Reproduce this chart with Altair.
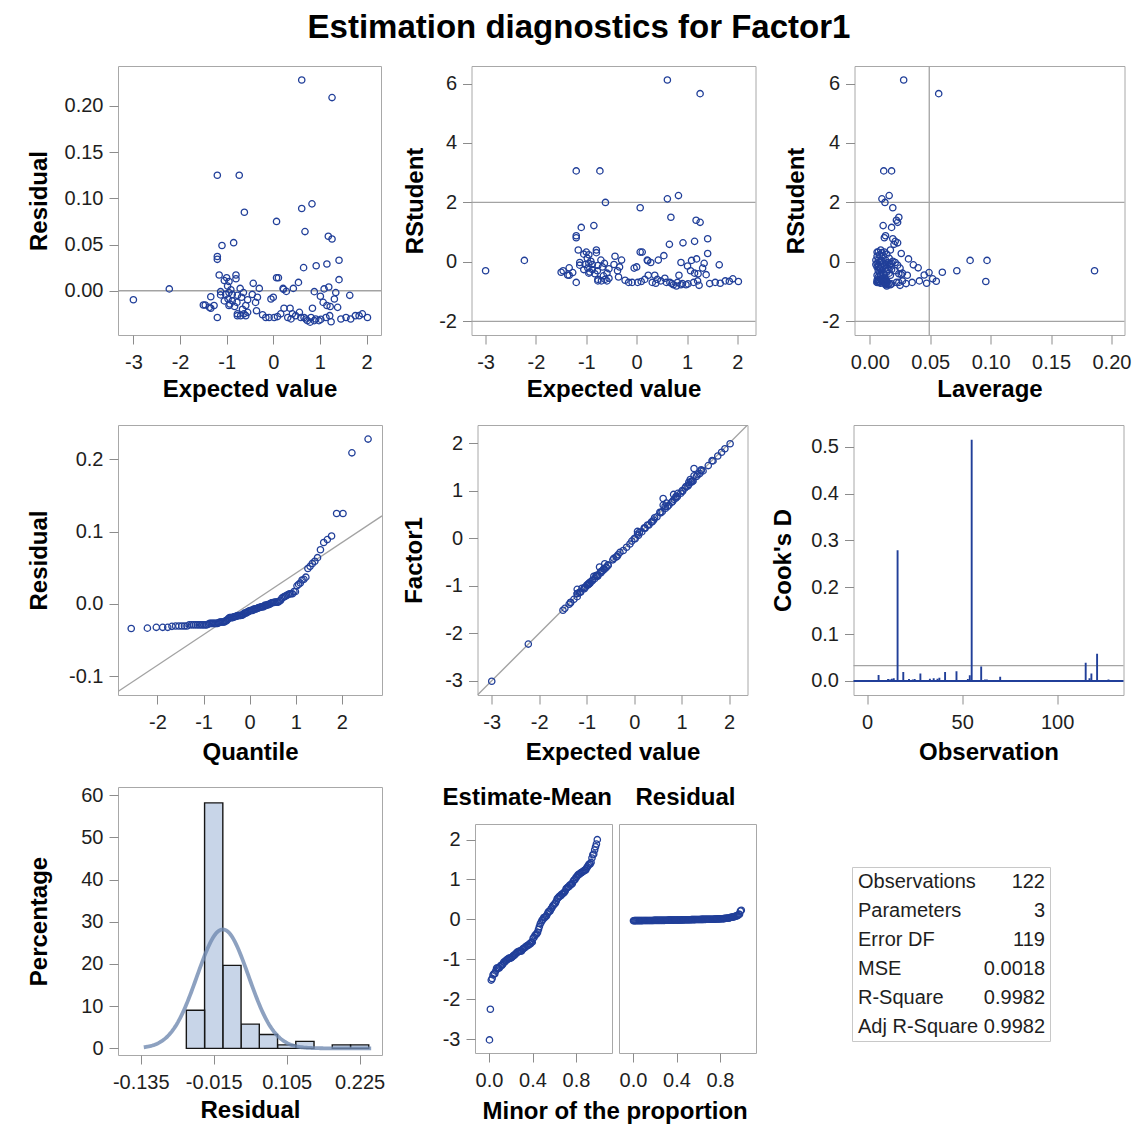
import altair as alt
import pandas as pd

FONT = "Liberation Sans"
BLUE = "#213f99"
REF_GRAY = "#a3a3a3"
FRAME_GRAY = "#a8a8a8"
LABEL_FIX = "replace(datum.label, '\u2212', '-')"

# ---- per-observation fit results (predicted value, residual, studentized residual, leverage)
expected = [
    0.61, 1.26, -1.20, -0.73, 0.83, 0.61, -0.62, 0.07, 0.68, 1.18,
    1.26, -0.85, -1.10, -1.20, -1.20, 1.41, 1.15, 0.92, 0.65, -1.16,
    -0.80, -1.00, 0.07, 0.11, -0.80, 1.41, -1.05, -0.95, 0.54, -0.43,
    -0.98, 1.19, -0.30, 0.43, 0.21, -0.71, -2.23, 1.09, 0.22, -0.91,
    0.28, 0.88, -1.13, 1.34, -0.64, -0.95, -0.88, -1.02, -0.45, -1.13,
    -0.77, 1.01, -1.34, -0.68, -0.34, 0.00, 1.64, -0.97, 1.31, -0.05,
    -0.55, -3.00, -0.88, -1.05, -0.78, -0.38, 1.07, -0.93, -1.50, -1.46,
    -0.95, -1.27, -0.59, 1.15, -0.83, 1.22, -1.37, 1.38, 0.23, 0.36,
    0.84, -1.34, -0.66, -0.36, -0.55, 0.56, -0.77, -0.63, 0.16, 0.41,
    1.91, -0.23, -0.70, 1.21, 1.76, -0.59, -0.77, 0.48, 1.84, 0.09,
    -1.20, -0.09, 0.02, 0.31, 0.59, 0.81, 1.56, 2.02, -0.16, 1.13,
    0.66, 0.70, 0.88, 0.98, 1.24, 1.45, 0.73, 0.79, 0.91, 1.66,
    0.38, 1.02,
]
residual = [
    0.228, 0.209, 0.125, 0.125, 0.094, 0.089, 0.085, 0.075, 0.064, 0.059,
    0.056, 0.052, 0.049, 0.037, 0.034, 0.033, 0.029, 0.027, 0.025, 0.017,
    0.017, 0.014, 0.014, 0.014, 0.013, 0.012, 0.011, 0.010, 0.009, 0.008,
    0.005, 0.004, 0.0025, 0.0025, 0.0025, 0.0025, 0.002, 0.002, 0.0015, 0.001,
    -0.0007, -0.001, -0.001, -0.002, -0.002, -0.002, -0.004, -0.004, -0.004, -0.0045,
    -0.005, -0.006, -0.0065, -0.007, -0.007, -0.007, -0.005, -0.009, -0.009, -0.009,
    -0.0097, -0.0097, -0.011, -0.011, -0.0126, -0.0126, -0.0126, -0.0144, -0.0155, -0.0155,
    -0.016, -0.016, -0.016, -0.016, -0.017, -0.017, -0.018, -0.018, -0.019, -0.019,
    -0.019, -0.019, -0.020, -0.0216, -0.0234, -0.0234, -0.025, -0.025, -0.025, -0.025,
    -0.025, -0.026, -0.027, -0.027, -0.027, -0.027, -0.027, -0.027, -0.027, -0.028,
    -0.029, -0.029, -0.029, -0.029, -0.029, -0.029, -0.029, -0.029, -0.029, -0.029,
    -0.029, -0.0306, -0.0324, -0.0324, -0.0335, -0.0306, -0.0324, -0.034, -0.0306, -0.0306,
    -0.0305, -0.031,
]
rstudent = [
    6.12, 5.66, 3.06, 3.06, 2.23, 2.12, 2.00, 1.82, 1.50, 1.40,
    1.33, 1.22, 1.16, 0.88, 0.81, 0.78, 0.69, 0.64, 0.59, 0.40,
    0.40, 0.33, 0.33, 0.33, 0.31, 0.28, 0.26, 0.24, 0.21, 0.19,
    0.12, 0.10, 0.06, 0.06, 0.06, 0.06, 0.05, 0.05, 0.04, 0.02,
    -0.02, -0.02, -0.02, -0.05, -0.05, -0.05, -0.09, -0.09, -0.09, -0.11,
    -0.12, -0.14, -0.20, -0.17, -0.17, -0.17, -0.10, -0.21, -0.21, -0.21,
    -0.23, -0.30, -0.26, -0.26, -0.30, -0.30, -0.30, -0.34, -0.35, -0.30,
    -0.38, -0.36, -0.38, -0.38, -0.40, -0.40, -0.44, -0.43, -0.45, -0.45,
    -0.45, -0.45, -0.47, -0.51, -0.55, -0.55, -0.59, -0.59, -0.59, -0.59,
    -0.57, -0.62, -0.64, -0.64, -0.64, -0.64, -0.64, -0.64, -0.65, -0.66,
    -0.69, -0.69, -0.69, -0.69, -0.69, -0.69, -0.69, -0.66, -0.69, -0.69,
    -0.69, -0.73, -0.77, -0.77, -0.79, -0.73, -0.77, -0.81, -0.73, -0.72,
    -0.72, -0.74,
]
leverage = [
    0.028, 0.057, 0.018, 0.0115, 0.016, 0.010, 0.0125, 0.019, 0.024, 0.022,
    0.023, 0.011, 0.018, 0.013, 0.012, 0.019, 0.021, 0.023, 0.020, 0.017,
    0.009, 0.012, 0.006, 0.007, 0.010, 0.026, 0.014, 0.008, 0.011, 0.006,
    0.016, 0.032, 0.005, 0.009, 0.007, 0.013, 0.097, 0.083, 0.010, 0.019,
    0.008, 0.015, 0.021, 0.018, 0.006, 0.011, 0.014, 0.017, 0.005, 0.023,
    0.012, 0.016, 0.040, 0.007, 0.010, 0.006, 0.036, 0.013, 0.025, 0.008,
    0.009, 0.186, 0.018, 0.015, 0.010, 0.007, 0.021, 0.014, 0.060, 0.072,
    0.016, 0.049, 0.008, 0.027, 0.011, 0.024, 0.045, 0.026, 0.006, 0.009,
    0.017, 0.031, 0.009, 0.007, 0.010, 0.012, 0.013, 0.011, 0.007, 0.009,
    0.052, 0.006, 0.012, 0.027, 0.041, 0.010, 0.014, 0.010, 0.055, 0.007,
    0.024, 0.006, 0.007, 0.008, 0.011, 0.014, 0.035, 0.096, 0.006, 0.022,
    0.012, 0.013, 0.015, 0.017, 0.025, 0.030, 0.013, 0.014, 0.016, 0.047,
    0.009, 0.018,
]

# ---- Cook's D by observation number
cook_obs = [i for i in range(1, 128) if i not in (74, 79, 88, 95, 106)]
cooks_d = [
    0.001, 0.0005, 0.0012, 0.0008, 0.0006, 0.013, 0.0009, 0.0004, 0.0011, 0.0015,
    0.004, 0.003, 0.005, 0.006, 0.001, 0.279, 0.0007, 0.0012, 0.019, 0.0009,
    0.0014, 0.004, 0.0011, 0.003, 0.004, 0.0008, 0.0013, 0.016, 0.0009, 0.0012,
    0.0006, 0.0015, 0.005, 0.0018, 0.006, 0.0014, 0.005, 0.007, 0.0010, 0.0016,
    0.019, 0.0009, 0.0011, 0.0007, 0.0013, 0.0009, 0.021, 0.0012, 0.0008, 0.0014,
    0.0010, 0.0016, 0.004, 0.012, 0.515, 0.0011, 0.0009, 0.0013, 0.0017, 0.031,
    0.0012, 0.003, 0.003, 0.0008, 0.0011, 0.0007, 0.0010, 0.0009, 0.0013, 0.009,
    0.0008, 0.0006, 0.0010, 0.0007, 0.0009, 0.0006, 0.0008, 0.0007,
    0.0005, 0.0009, 0.0006, 0.0008, 0.0007, 0.002, 0.0006, 0.0008, 0.0005,
    0.0007, 0.002, 0.0006, 0.0009, 0.0007, 0.002, 0.0006, 0.0008, 0.0005,
    0.0009, 0.0007, 0.002, 0.0006, 0.0008, 0.0007, 0.0005, 0.0009, 0.0006,
    0.0008, 0.0010, 0.0007, 0.0009, 0.039, 0.0011, 0.006, 0.016, 0.0012, 0.0009,
    0.058, 0.0010, 0.0007, 0.0009, 0.0006, 0.0008, 0.003,
]

# ---- fit statistics
stat_names = ["Observations", "Parameters", "Error DF", "MSE", "R-Square", "Adj R-Square"]
stat_values = ["122", "3", "119", "0.0018", "0.9982", "0.9982"]

# ---- spread-plot column headers
spread_headers = ["Estimate-Mean", "Residual"]

n_obs = len(expected)
n_params = int(stat_values[1])
mse = float(stat_values[3])
root_mse = mse ** 0.5

pts = pd.DataFrame({"expected": expected, "residual": residual,
                    "rstudent": rstudent, "leverage": leverage})
cook = pd.DataFrame({"obs": cook_obs, "cooksd": cooks_d})
one = pd.DataFrame({"k": [0]})

TITLE_SIZE = 24
LABEL_SIZE = 20
CIRCLE = dict(shape="circle", filled=False, size=40, strokeWidth=1.3,
              color=BLUE, opacity=1, clip=True)


def sc(lo, hi):
    return alt.Scale(domain=[lo, hi], nice=False, zero=False)


def xaxis(title, values, fmt, title_y):
    kw = dict(values=values, format=fmt, tickSize=9, labelPadding=8,
              labelExpr=LABEL_FIX)
    if title is None:
        kw["title"] = None
    else:
        kw["title"] = title
        kw["titleY"] = title_y
        kw["titleBaseline"] = "middle"
    return alt.Axis(**kw)


def yaxis(title, values, fmt, title_x=None):
    kw = dict(values=values, format=fmt, tickSize=9, labelPadding=6,
              labelExpr=LABEL_FIX)
    if title is None:
        kw["title"] = None
    else:
        kw["title"] = title
        kw["titleX"] = title_x
        kw["titleBaseline"] = "middle"
    return alt.Axis(**kw)


def hrule(value, color=REF_GRAY, width=1.3):
    return alt.Chart(one).mark_rule(color=color, strokeWidth=width).encode(y=alt.datum(value))


def vrule(value, color=REF_GRAY, width=1.3):
    return alt.Chart(one).mark_rule(color=color, strokeWidth=width).encode(x=alt.datum(value))


# ---- row 1 -----------------------------------------------------------------
ev_ticks = [-3, -2, -1, 0, 1, 2]

p1 = alt.layer(
    hrule(0),
    alt.Chart(pts).mark_point(**CIRCLE).encode(
        x=alt.X("expected:Q", scale=sc(-3.33, 2.31),
                axis=xaxis("Expected value", ev_ticks, "d", 54)),
        y=alt.Y("residual:Q", scale=sc(-0.0479, 0.2432),
                axis=yaxis("Residual", [0, 0.05, 0.10, 0.15, 0.20], ".2f", -79)),
    ),
).properties(width=263, height=269)

rs_scale = sc(-2.46, 6.59)
p2 = alt.layer(
    hrule(2), hrule(-2),
    alt.Chart(pts).mark_point(**CIRCLE).encode(
        x=alt.X("expected:Q", scale=sc(-3.28, 2.36),
                axis=xaxis("Expected value", ev_ticks, "d", 54)),
        y=alt.Y("rstudent:Q", scale=rs_scale,
                axis=yaxis("RStudent", [-2, 0, 2, 4, 6], "d", -56)),
    ),
).properties(width=284, height=269)

p3 = alt.layer(
    hrule(2), hrule(-2), vrule(2 * n_params / n_obs),
    alt.Chart(pts).mark_point(**CIRCLE).encode(
        x=alt.X("leverage:Q", scale=sc(-0.0127, 0.2108),
                axis=xaxis("Laverage", [0, 0.05, 0.10, 0.15, 0.20], ".2f", 54)),
        y=alt.Y("rstudent:Q", scale=rs_scale,
                axis=yaxis("RStudent", [-2, 0, 2, 4, 6], "d", -58)),
    ),
).properties(width=270, height=269)

# ---- row 2 -----------------------------------------------------------------
qq_x_dom = [-2.855, 2.87]
qq_x = alt.X("q:Q", scale=sc(*qq_x_dom), axis=xaxis("Quantile", [-2, -1, 0, 1, 2], "d", 57))
qq_y_scale = sc(-0.126, 0.2475)
qq_y_axis = yaxis("Residual", [-0.1, 0.0, 0.1, 0.2], ".1f", -79)

qq_line = alt.Chart(pd.DataFrame({"q": qq_x_dom})).transform_calculate(
    res=f"{root_mse} * datum.q"
).mark_line(color=REF_GRAY, strokeWidth=1.3, clip=True).encode(
    x=qq_x, y=alt.Y("res:Q", scale=qq_y_scale, axis=qq_y_axis)
)
qq_pts = alt.Chart(pts).transform_window(
    rank="row_number()", sort=[alt.SortField("residual")]
).transform_joinaggregate(n="count()").transform_calculate(
    q="quantileNormal((datum.rank - 0.375) / (datum.n + 0.25))", res="datum.residual"
).mark_point(**CIRCLE).encode(
    x=qq_x, y=alt.Y("res:Q", scale=qq_y_scale, axis=qq_y_axis)
)
p4 = alt.layer(qq_line, qq_pts).properties(width=264, height=270)

ob_dom = [-3.3, 2.386]
ob_x_axis = xaxis("Expected value", ev_ticks, "d", 57)
ob_y_axis = yaxis("Factor1", ev_ticks, "d", -63)
diag = alt.Chart(pd.DataFrame({"d": ob_dom})).mark_line(
    color=REF_GRAY, strokeWidth=1.3, clip=True
).encode(
    x=alt.X("d:Q", scale=sc(*ob_dom), axis=ob_x_axis),
    y=alt.Y("d:Q", scale=sc(*ob_dom), axis=ob_y_axis),
)
ob_pts = alt.Chart(pts).transform_calculate(
    d="datum.expected", f="datum.expected + datum.residual"
).mark_point(**CIRCLE).encode(
    x=alt.X("d:Q", scale=sc(*ob_dom), axis=ob_x_axis),
    y=alt.Y("f:Q", scale=sc(*ob_dom), axis=ob_y_axis),
)
p5 = alt.layer(diag, ob_pts).properties(width=270, height=270)

p6 = alt.layer(
    hrule(4 / n_obs),
    hrule(0, color=BLUE, width=2.2),
    alt.Chart(cook).mark_rule(color=BLUE, strokeWidth=1.9, clip=True).encode(
        x=alt.X("obs:Q", scale=sc(-7.2, 134.9),
                axis=xaxis("Observation", [0, 50, 100], "d", 57)),
        y=alt.Y("cooksd:Q", scale=sc(-0.0299, 0.5463),
                axis=yaxis("Cook's D", [0, 0.1, 0.2, 0.3, 0.4, 0.5], ".1f", -70)),
        y2=alt.datum(0),
    ),
).properties(width=270, height=270)

# ---- row 3 -----------------------------------------------------------------
bin_step = 0.03
hx_scale = sc(-0.1724, 0.2618)
hx_axis = xaxis("Residual", [-0.135, -0.015, 0.105, 0.225], ".3f", 55)
hy_scale = sc(-1.58, 61.97)
hy_axis = yaxis("Percentage", [0, 10, 20, 30, 40, 50, 60], "d", -79)

bars = alt.Chart(pts).transform_bin(
    as_="b0", field="residual", bin=alt.Bin(extent=[-0.06, 0.24], step=bin_step)
).transform_aggregate(
    cnt="count()", groupby=["b0", "b0_end"]
).transform_joinaggregate(total="sum(cnt)").transform_calculate(
    pct="100 * datum.cnt / datum.total"
).mark_bar(fill="#c8d5e8", stroke="#161616", strokeWidth=1.4, clip=True).encode(
    x=alt.X("b0:Q", scale=hx_scale, axis=hx_axis),
    x2="b0_end:Q",
    y=alt.Y("pct:Q", scale=hy_scale, axis=hy_axis),
    y2=alt.datum(0),
)
curve = alt.Chart(alt.sequence(-0.13, 0.246, 0.002, as_="b0")).transform_calculate(
    pct=f"100 * {bin_step} * densityNormal(datum.b0, 0, {root_mse})"
).mark_line(color="#7089b0", strokeWidth=3.8, opacity=0.8, clip=True).encode(
    x=alt.X("b0:Q", scale=hx_scale, axis=hx_axis),
    y=alt.Y("pct:Q", scale=hy_scale, axis=hy_axis),
)
p7 = alt.layer(bars, curve).properties(width=264, height=268)

sp_x_scale = sc(-0.129, 1.131)
sp_y_scale = sc(-3.35, 2.39)
sp_ticks = [0.0, 0.4, 0.8]
SP_W = 137
SP_GAP = 5

fit_spread = alt.Chart(pts).transform_joinaggregate(
    mean_fit="mean(expected)"
).transform_calculate(
    dev="datum.expected - datum.mean_fit"
).transform_window(
    rank="row_number()", sort=[alt.SortField("dev")]
).transform_joinaggregate(n="count()").transform_calculate(
    prop="(datum.rank - 0.5) / datum.n"
).mark_point(**CIRCLE).encode(
    x=alt.X("prop:Q", scale=sp_x_scale, axis=xaxis(None, sp_ticks, ".1f", 0)),
    y=alt.Y("dev:Q", scale=sp_y_scale, axis=yaxis(None, [-3, -2, -1, 0, 1, 2], "d")),
).properties(width=SP_W, height=229)

res_spread = alt.Chart(pts).transform_window(
    rank="row_number()", sort=[alt.SortField("residual")]
).transform_joinaggregate(n="count()").transform_calculate(
    prop="(datum.rank - 0.5) / datum.n"
).mark_point(**CIRCLE).encode(
    x=alt.X("prop:Q", scale=sp_x_scale, axis=xaxis(None, sp_ticks, ".1f", 0)),
    y=alt.Y("residual:Q", scale=sp_y_scale, axis=None),
).properties(width=SP_W, height=229)

# column headers above the two spread panels
hdr_df = pd.DataFrame({"h": spread_headers})
hdr_style = dict(font=FONT, fontSize=TITLE_SIZE, fontWeight="bold", color="#000000",
                 baseline="middle")
hdr = alt.layer(
    alt.Chart(hdr_df).transform_filter(f"datum.h == '{spread_headers[0]}'")
    .mark_text(align="right", **hdr_style)
    .encode(text="h:N", x=alt.value(SP_W), y=alt.value(11)),
    alt.Chart(hdr_df).transform_filter(f"datum.h == '{spread_headers[1]}'")
    .mark_text(align="center", **hdr_style)
    .encode(text="h:N", x=alt.value(SP_W + SP_GAP + SP_W / 2), y=alt.value(11)),
).properties(width=2 * SP_W + SP_GAP, height=36,
             view=alt.ViewBackground(strokeOpacity=0))

spread_pair = alt.hconcat(fit_spread, res_spread, spacing=SP_GAP).properties(
    title=alt.TitleParams("Minor of the proportion", font=FONT, fontSize=TITLE_SIZE,
                          fontWeight="bold", color="#000000", anchor="middle",
                          orient="bottom", offset=9, dx=16)
)
p8 = alt.vconcat(hdr, spread_pair, spacing=0)

stats = pd.DataFrame({"name": stat_names, "value": stat_values,
                      "row": list(range(len(stat_names)))})
tbl_base = alt.Chart(stats).encode(y=alt.Y("row:O", axis=None))
table = alt.layer(
    tbl_base.mark_text(align="left", baseline="middle", font=FONT, fontSize=20,
                       color="#1e1e1e").encode(x=alt.value(6), text="name:N"),
    tbl_base.mark_text(align="right", baseline="middle", font=FONT, fontSize=20,
                       color="#1e1e1e").encode(x=alt.value(193), text="value:N"),
).properties(width=198, height=174, view=alt.ViewBackground(stroke="#c8c8c8"))

spacer = alt.Chart(one).mark_point(opacity=0).encode(
    x=alt.value(0), y=alt.value(0)
).properties(width=198, height=79, view=alt.ViewBackground(strokeOpacity=0))

table_col = alt.vconcat(spacer, table, spacing=0)

# ---- assemble ----------------------------------------------------------------
row1 = alt.hconcat(alt.hconcat(p1, p2, spacing=19.5), p3, spacing=26.5)
row2 = alt.hconcat(alt.hconcat(p4, p5, spacing=18.5), p6, spacing=22.5)
row3 = alt.hconcat(alt.hconcat(p7, p8, spacing=55), table_col, spacing=92)

chart = alt.vconcat(alt.vconcat(row1, row2, spacing=22), row3, spacing=19).properties(
    title=alt.TitleParams("Estimation diagnostics for Factor1", font=FONT, fontSize=33,
                          fontWeight="bold", color="#000000", anchor="middle", offset=20),
    padding={"left": 26, "top": 11, "right": 6, "bottom": 6},
).configure_view(
    stroke=FRAME_GRAY, strokeWidth=1
).configure_axis(
    labelFont=FONT, titleFont=FONT, labelFontSize=LABEL_SIZE, titleFontSize=TITLE_SIZE,
    titleFontWeight="bold", labelColor="#1e1e1e", titleColor="#000000",
    tickColor="#8c8c8c", tickWidth=1, domain=False, grid=False,
)

chart.save("out.html", embed_options={"renderer": "svg", "actions": False})
